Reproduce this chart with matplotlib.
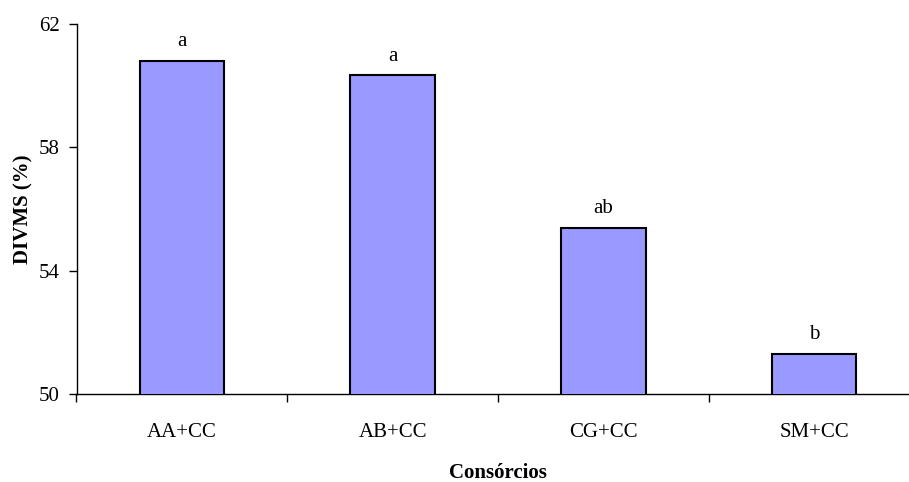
import matplotlib
matplotlib.use('Agg')
import matplotlib.pyplot as plt
import numpy as np

# Data
categories = ['AA+CC', 'AB+CC', 'CG+CC', 'SM+CC']
divms = [60.8, 60.33, 55.38, 51.3]
letters = ['a', 'a', 'ab', 'b']

plt.rcParams['font.family'] = ['Liberation Serif', 'DejaVu Serif']

fig = plt.figure(figsize=(9.09, 4.82), dpi=100)
# axis runs slightly past the right edge, as in the original
ax = fig.add_axes([76.5 / 909, 1 - 394 / 482, 843 / 909, 370 / 482])

x = np.arange(len(categories))
ax.bar(x, divms, width=0.4, color='#9999ff', edgecolor='black', linewidth=1.5, zorder=3)

for xi, v, lab in zip(x, divms, letters):
    ax.text(xi, v + 0.48, lab, ha='center', va='baseline', fontsize=15)

ax.set_xlim(-0.5, 3.5)
ax.set_ylim(50, 62)
ax.set_yticks([50, 54, 58, 62])

# category labels centred, tick marks at category boundaries
ax.set_xticks(x)
ax.set_xticklabels(categories, fontsize=15)
ax.tick_params(axis='x', which='major', length=0, pad=21)
ax.set_xticks(np.arange(-0.5, 4.0, 1.0), minor=True)
ax.tick_params(axis='x', which='minor', length=6, direction='out', width=1)
ax.tick_params(axis='y', length=6, direction='out', width=1, labelsize=15, pad=6)

ax.spines['top'].set_visible(False)
ax.spines['right'].set_visible(False)
ax.spines['left'].set_linewidth(1)
ax.spines['bottom'].set_linewidth(1)

ax.set_ylabel('DIVMS (%)', fontsize=15, fontweight='bold', labelpad=4)
ax.set_xlabel('Consórcios', fontsize=15, fontweight='bold', labelpad=15)

fig.savefig('out.png', dpi=100)
